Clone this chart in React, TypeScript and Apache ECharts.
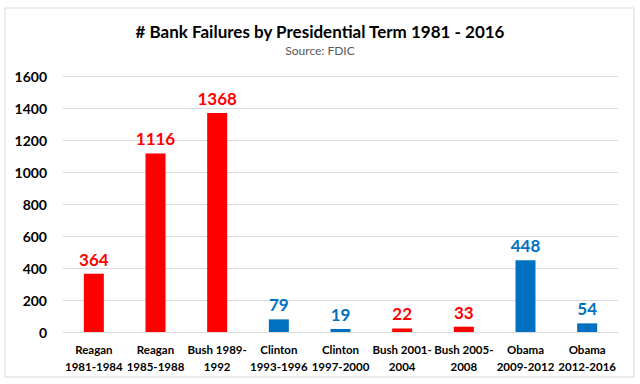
import React, { useEffect, useRef } from "react";
import * as echarts from "echarts";

const categories = [
  "Reagan\n1981-1984",
  "Reagan\n1985-1988",
  "Bush 1989-\n1992",
  "Clinton\n1993-1996",
  "Clinton\n1997-2000",
  "Bush 2001-\n2004",
  "Bush 2005-\n2008",
  "Obama\n2009-2012",
  "Obama\n2012-2016",
];
const failures = [364, 1116, 1368, 79, 19, 22, 33, 448, 54];
const party = ["R", "R", "R", "D", "D", "R", "R", "D", "D"];
const RED = "#FF0000";
const BLUE = "#0070C0";
const FONT = "Lato, 'Open Sans', sans-serif";

export default function App() {
  const ref = useRef<HTMLDivElement>(null);
  useEffect(() => {
    if (!ref.current) return;
    const chart = echarts.init(ref.current, null, { renderer: "svg" });
    chart.setOption({
      animation: false,
      backgroundColor: "#ffffff",
      textStyle: { fontFamily: FONT },
      title: {
        text: "# Bank Failures by Presidential Term 1981 - 2016",
        subtext: "Source: FDIC",
        left: "center",
        top: 18,
        itemGap: 4,
        textStyle: { fontFamily: FONT, fontSize: 17, fontWeight: "bold", color: "#000" },
        subtextStyle: { fontFamily: FONT, fontSize: 12, color: "#595959" },
      },
      graphic: [
        {
          type: "rect",
          shape: { x: 5, y: 8, width: 629, height: 369 },
          style: { fill: "none", stroke: "#d9d9d9", lineWidth: 1 },
          silent: true,
        },
      ],
      grid: { left: 63, right: 22, top: 76, bottom: 52, containLabel: false },
      xAxis: {
        type: "category",
        data: categories,
        axisLine: { lineStyle: { color: "#d9d9d9" } },
        axisTick: { show: false },
        axisLabel: {
          interval: 0,
          fontFamily: FONT,
          fontSize: 11.5,
          fontWeight: "bold",
          color: "#000",
          lineHeight: 17,
          margin: 9,
        },
      },
      yAxis: {
        type: "value",
        min: 0,
        max: 1600,
        interval: 200,
        axisLine: { show: false },
        axisTick: { show: false },
        splitLine: { lineStyle: { color: "#d9d9d9" } },
        axisLabel: {
          fontFamily: FONT,
          fontSize: 14,
          fontWeight: "bold",
          color: "#000",
          margin: 16,
          formatter: (v: number) => String(v),
        },
      },
      series: [
        {
          type: "bar",
          barWidth: 20,
          data: failures.map((v, i) => ({
            value: v,
            itemStyle: { color: party[i] === "R" ? RED : BLUE },
            label: { color: party[i] === "R" ? RED : BLUE },
          })),
          label: {
            show: true,
            position: "top",
            distance: 6,
            fontFamily: FONT,
            fontSize: 17,
            fontWeight: "bold",
          },
        },
      ],
    });
    return () => chart.dispose();
  }, []);
  return (
    <div
      ref={ref}
      style={{ position: "fixed", left: 0, top: 0, width: 640, height: 384 }}
    />
  );
}
